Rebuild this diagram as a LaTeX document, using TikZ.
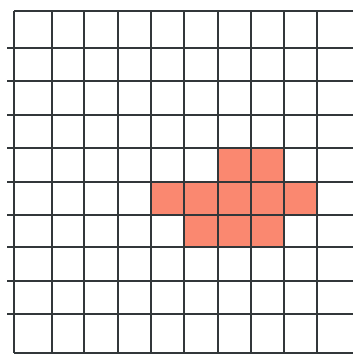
\documentclass[tikz,border=0pt]{standalone}
\usepackage{xcolor}
\definecolor{cellcolor}{RGB}{250,136,112}
\definecolor{linecolor}{RGB}{50,55,58}
\tikzset{
    gridline/.style={draw=linecolor, line width=1.3pt},
    cell/.style={fill=cellcolor}
}
\begin{document}
\begin{tikzpicture}[x=0.5pt, y=-0.5pt]
    \useasboundingbox[fill=white] (0,0) rectangle (353,354);

    % filled cells
    \fill[cell] (218,148) rectangle (284,182);
    \fill[cell] (151,182) rectangle (317,215);
    \fill[cell] (184,215) rectangle (284,247);

    % vertical lines
    \foreach \x in {14,52,84,118,151,184,218,251,284,317}
        \draw[gridline] (\x,11) -- (\x,353);

    % horizontal lines
    \draw[gridline] (14,11) -- (353,11);
    \foreach \y in {48,81,115,148,182,215,247,281,314}
        \draw[gridline] (7,\y) -- (353,\y);
    \draw[gridline] (14,353) -- (353,353);

\end{tikzpicture}
\end{document}
